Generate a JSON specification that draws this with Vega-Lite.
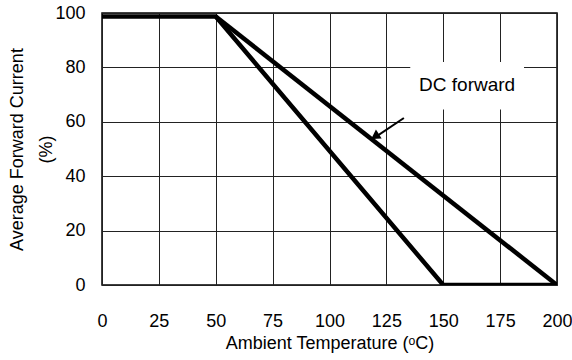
{
  "$schema": "https://vega.github.io/schema/vega-lite/v6.json",
  "width": 455,
  "height": 272,
  "autosize": "none",
  "padding": {"left": 102, "top": 13, "right": 15, "bottom": 75},
  "background": "white",
  "config": {
    "font": "Liberation Sans",
    "view": {"stroke": "black", "strokeWidth": 1.5},
    "axis": {
      "grid": true,
      "gridColor": "#222222",
      "gridWidth": 1,
      "gridOpacity": 1,
      "domain": false,
      "ticks": false,
      "labelFont": "Liberation Sans",
      "labelFontSize": 18,
      "labelColor": "black",
      "titleFont": "Liberation Sans",
      "titleFontSize": 18,
      "titleFontWeight": "normal",
      "titleColor": "black"
    }
  },
  "datasets": {
    "curves": [
      {"temp": 0, "current": 98.7, "series": "A", "o": 1},
      {"temp": 50, "current": 98.7, "series": "A", "o": 2},
      {"temp": 150, "current": 0, "series": "A", "o": 3},
      {"temp": 200, "current": 0, "series": "A", "o": 4},
      {"temp": 50, "current": 98.7, "series": "B", "o": 1},
      {"temp": 200, "current": 0, "series": "B", "o": 2}
    ],
    "box": [{"x1": 135.5, "x2": 185.5, "y1": 64.5, "y2": 82}],
    "label": [{"temp": 160.5, "current": 73.5, "text": "DC forward"}],
    "arrow": [
      {"temp": 132.7, "current": 61.4, "o": 1},
      {"temp": 119.5, "current": 54.0, "o": 2}
    ],
    "tip": [{"temp": 120.0, "current": 54.6}]
  },
  "layer": [
    {
      "data": {"name": "box"},
      "mark": {"type": "rect", "fill": "white", "stroke": null},
      "encoding": {
        "x": {"field": "x1", "type": "quantitative", "scale": {"domain": [0, 200]},
          "axis": {"values": [0, 25, 50, 75, 100, 125, 150, 175, 200], "labelPadding": 27, "title": "Ambient Temperature (ᵒC)", "titlePadding": 4, "labelFlush": false}},
        "x2": {"field": "x2"},
        "y": {"field": "y1", "type": "quantitative", "scale": {"domain": [0, 100]},
          "axis": {"values": [0, 20, 40, 60, 80, 100], "labelPadding": 17, "title": ["Average Forward Current", "(%)"], "titleLineHeight": 29, "titlePadding": -1}},
        "y2": {"field": "y2"}
      }
    },
    {
      "data": {"name": "curves"},
      "mark": {"type": "line", "color": "black", "strokeWidth": 4.5, "strokeJoin": "miter", "clip": true},
      "encoding": {
        "x": {"field": "temp", "type": "quantitative"},
        "y": {"field": "current", "type": "quantitative"},
        "detail": {"field": "series"},
        "order": {"field": "o"}
      }
    },
    {
      "data": {"name": "arrow"},
      "mark": {"type": "line", "color": "black", "strokeWidth": 2},
      "encoding": {
        "x": {"field": "temp", "type": "quantitative"},
        "y": {"field": "current", "type": "quantitative"},
        "order": {"field": "o"}
      }
    },
    {
      "data": {"name": "tip"},
      "mark": {"type": "point", "shape": "triangle-up", "filled": true, "color": "black", "size": 110, "angle": 237, "opacity": 1},
      "encoding": {
        "x": {"field": "temp", "type": "quantitative"},
        "y": {"field": "current", "type": "quantitative"}
      }
    },
    {
      "data": {"name": "label"},
      "mark": {"type": "text", "font": "Liberation Sans", "fontSize": 19, "color": "black", "align": "center", "baseline": "middle"},
      "encoding": {
        "x": {"field": "temp", "type": "quantitative"},
        "y": {"field": "current", "type": "quantitative"},
        "text": {"field": "text"}
      }
    }
  ]
}
